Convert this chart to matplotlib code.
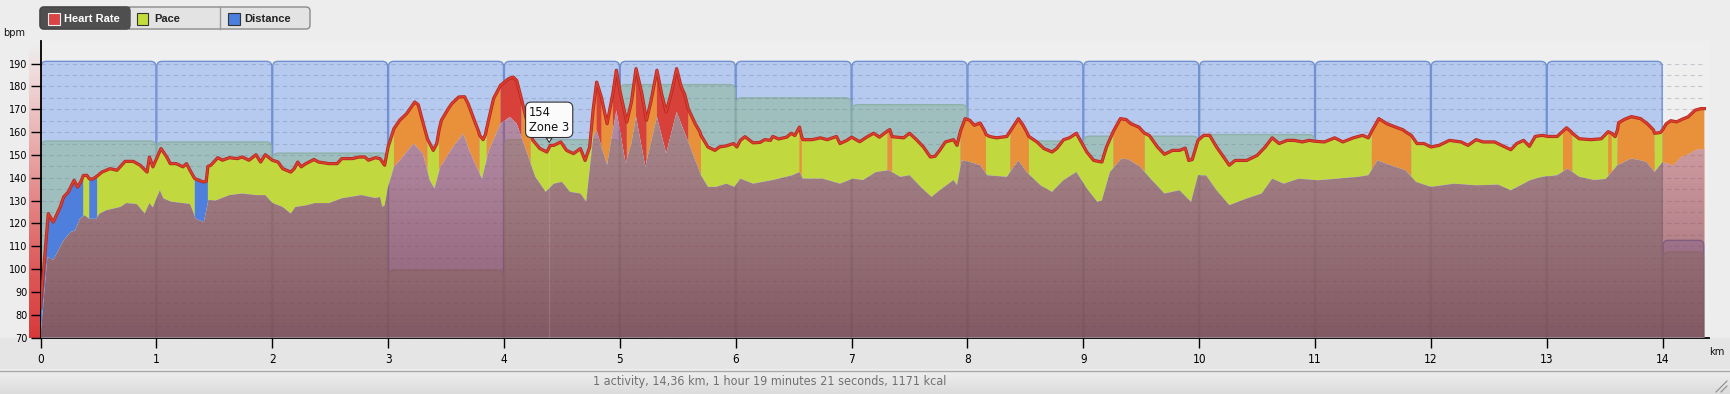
import numpy as np
import matplotlib
matplotlib.use("Agg")
import matplotlib.pyplot as plt
from matplotlib.patches import FancyBboxPatch, Rectangle
from matplotlib.lines import Line2D
from matplotlib.transforms import IdentityTransform
from matplotlib import font_manager as fm

# ---------------- data ----------------
hr_km = [0.00, 0.067, 0.11, 0.17, 0.20, 0.24, 0.29, 0.32, 0.35, 0.37,
         0.40, 0.42, 0.45, 0.49, 0.53, 0.60, 0.66, 0.73, 0.80, 0.86,
         0.92, 0.94, 0.97, 1.04, 1.09, 1.12, 1.17, 1.23, 1.26, 1.29,
         1.33, 1.40, 1.43, 1.445, 1.47, 1.53, 1.57, 1.63, 1.70, 1.74,
         1.80, 1.86, 1.90, 1.94, 2.00, 2.05, 2.09, 2.16, 2.19, 2.22,
         2.25, 2.29, 2.36, 2.40, 2.49, 2.56, 2.60, 2.69, 2.75, 2.80,
         2.83, 2.89, 2.93, 2.97, 3.00, 3.05, 3.10, 3.16, 3.23, 3.26,
         3.30, 3.34, 3.36, 3.39, 3.42, 3.44, 3.46, 3.52, 3.55, 3.61,
         3.66, 3.69, 3.75, 3.78, 3.79, 3.82, 3.84, 3.85, 3.91, 3.97,
         4.04, 4.08, 4.11, 4.15, 4.20, 4.23, 4.25, 4.31, 4.37, 4.40,
         4.43, 4.49, 4.54, 4.60, 4.66, 4.70, 4.74, 4.77, 4.80, 4.84,
         4.89, 4.94, 4.97, 5.00, 5.06, 5.10, 5.14, 5.19, 5.23, 5.27,
         5.32, 5.36, 5.40, 5.45, 5.49, 5.53, 5.56, 5.59, 5.65, 5.69,
         5.70, 5.76, 5.82, 5.86, 5.92, 5.98, 6.01, 6.04, 6.08, 6.15,
         6.21, 6.25, 6.30, 6.32, 6.37, 6.44, 6.48, 6.51, 6.55, 6.57,
         6.58, 6.66, 6.73, 6.79, 6.87, 6.90, 6.96, 7.00, 7.07, 7.13,
         7.19, 7.24, 7.31, 7.33, 7.35, 7.45, 7.50, 7.56, 7.62, 7.68,
         7.72, 7.76, 7.81, 7.88, 7.91, 7.94, 7.98, 8.02, 8.06, 8.11,
         8.15, 8.16, 8.19, 8.25, 8.34, 8.37, 8.44, 8.48, 8.51, 8.53,
         8.60, 8.66, 8.73, 8.77, 8.83, 8.88, 8.94, 8.97, 9.03, 9.09,
         9.16, 9.20, 9.26, 9.32, 9.37, 9.41, 9.48, 9.51, 9.53, 9.57,
         9.64, 9.70, 9.77, 9.83, 9.88, 9.91, 9.94, 9.99, 10.04, 10.09,
         10.15, 10.21, 10.26, 10.31, 10.41, 10.50, 10.57, 10.63, 10.69, 10.76,
         10.82, 10.89, 10.95, 11.00, 11.08, 11.17, 11.24, 11.33, 11.41, 11.46,
         11.49, 11.55, 11.62, 11.68, 11.76, 11.78, 11.83, 11.88, 11.94, 12.00,
         12.07, 12.16, 12.26, 12.32, 12.39, 12.45, 12.55, 12.61, 12.69, 12.74,
         12.80, 12.85, 12.90, 12.96, 13.01, 13.09, 13.14, 13.17, 13.21, 13.22,
         13.28, 13.38, 13.47, 13.53, 13.56, 13.59, 13.61, 13.62, 13.67, 13.73,
         13.81, 13.87, 13.92, 13.93, 13.98, 14.00, 14.03, 14.07, 14.12, 14.18,
         14.22, 14.28, 14.33, 14.36]
hr_bpm = [83.0, 124.3, 120.6, 127.2, 131.6, 133.8, 138.9, 135.9, 138.5, 141.0,
          141.1, 139.6, 139.4, 140.8, 142.5, 144.0, 143.3, 147.2, 147.2, 145.5,
          142.5, 149.1, 144.8, 152.8, 149.1, 146.2, 146.2, 144.8, 146.2, 143.3,
          139.7, 138.2, 138.4, 145.0, 145.5, 148.8, 147.7, 148.8, 148.4, 149.1,
          147.7, 150.1, 146.9, 150.1, 147.7, 146.9, 144.0, 142.5, 144.0, 146.9,
          144.8, 146.2, 148.0, 146.9, 146.2, 146.2, 148.4, 148.4, 149.1, 149.1,
          147.7, 148.8, 148.4, 145.5, 153.5, 161.5, 165.2, 168.1, 173.2, 172.0,
          164.4, 157.0, 155.0, 152.0, 155.0, 161.0, 165.2, 170.3, 172.5, 175.4,
          175.5, 172.5, 164.4, 160.5, 158.6, 156.7, 159.0, 161.5, 174.7, 180.5,
          183.4, 184.1, 182.6, 174.7, 164.4, 159.0, 156.4, 152.8, 151.3, 154.2,
          154.2, 155.7, 152.0, 150.6, 152.8, 147.6, 153.5, 170.0, 181.9, 175.4,
          163.7, 177.0, 187.1, 178.3, 164.4, 173.2, 187.8, 176.9, 165.2, 173.9,
          187.1, 176.9, 168.8, 178.3, 187.8, 179.8, 176.5, 170.3, 163.7, 160.2,
          158.6, 153.5, 152.0, 153.5, 154.0, 155.0, 153.5, 156.4, 158.0, 155.3,
          155.5, 156.7, 156.4, 158.1, 157.0, 157.8, 159.5, 158.5, 162.2, 158.0,
          156.7, 156.7, 157.5, 156.7, 158.1, 155.0, 156.4, 157.8, 155.8, 157.8,
          159.5, 157.8, 160.5, 161.1, 158.0, 157.5, 159.5, 156.7, 153.5, 149.1,
          149.4, 152.0, 155.7, 156.7, 154.2, 160.5, 165.9, 165.2, 163.0, 164.0,
          160.4, 159.0, 158.1, 157.5, 158.1, 160.5, 165.9, 163.0, 160.2, 158.1,
          155.7, 152.8, 151.3, 152.8, 156.7, 157.5, 159.5, 156.8, 151.3, 147.6,
          146.9, 153.5, 160.4, 165.9, 165.5, 163.7, 162.2, 160.5, 159.5, 158.5,
          153.5, 150.3, 152.0, 152.0, 153.0, 147.6, 148.0, 156.4, 158.6, 158.6,
          153.5, 149.1, 145.5, 147.6, 147.6, 149.8, 153.5, 157.5, 155.0, 156.4,
          156.4, 155.7, 156.4, 156.0, 155.7, 157.5, 155.7, 157.5, 158.6, 157.5,
          160.5, 165.9, 163.7, 162.5, 161.0, 160.2, 158.6, 155.0, 155.0, 153.5,
          154.2, 156.4, 155.7, 154.2, 156.7, 155.7, 155.7, 154.2, 152.3, 155.0,
          156.4, 153.8, 158.1, 158.6, 158.1, 158.1, 160.5, 161.9, 160.2, 159.5,
          157.1, 156.7, 157.1, 160.2, 159.5, 158.0, 161.0, 164.1, 165.6, 166.8,
          165.9, 163.6, 161.0, 159.5, 159.8, 161.0, 163.6, 165.0, 164.5, 165.9,
          166.7, 169.6, 170.3, 170.3]

pace_km = [0.00, 0.06, 0.11, 0.20, 0.26, 0.30, 0.34, 0.38, 0.42, 0.48,
           0.51, 0.57, 0.69, 0.74, 0.83, 0.90, 0.94, 0.97, 1.03, 1.06,
           1.12, 1.29, 1.34, 1.41, 1.45, 1.51, 1.63, 1.74, 1.86, 1.94,
           2.00, 2.09, 2.16, 2.20, 2.29, 2.37, 2.49, 2.60, 2.77, 2.89,
           2.93, 2.95, 2.97, 3.00, 3.05, 3.10, 3.22, 3.30, 3.36, 3.40,
           3.45, 3.56, 3.65, 3.70, 3.79, 3.81, 3.87, 3.97, 4.05, 4.11,
           4.20, 4.27, 4.36, 4.43, 4.50, 4.57, 4.66, 4.71, 4.77, 4.80,
           4.85, 4.89, 4.94, 4.97, 5.05, 5.10, 5.14, 5.22, 5.32, 5.40,
           5.49, 5.59, 5.70, 5.76, 5.83, 5.92, 5.99, 6.04, 6.15, 6.32,
           6.49, 6.55, 6.58, 6.75, 6.90, 7.01, 7.10, 7.21, 7.32, 7.42,
           7.50, 7.61, 7.69, 7.76, 7.88, 7.91, 7.95, 8.02, 8.11, 8.17,
           8.34, 8.44, 8.51, 8.63, 8.73, 8.83, 8.94, 9.03, 9.12, 9.16,
           9.23, 9.33, 9.39, 9.49, 9.58, 9.70, 9.83, 9.93, 9.99, 10.06,
           10.15, 10.26, 10.41, 10.54, 10.63, 10.73, 10.86, 11.02, 11.17, 11.37,
           11.46, 11.54, 11.65, 11.78, 11.87, 12.00, 12.20, 12.39, 12.58, 12.69,
           12.86, 12.96, 13.09, 13.18, 13.28, 13.41, 13.51, 13.61, 13.73, 13.81,
           13.86, 13.93, 14.00, 14.09, 14.16, 14.23, 14.29, 14.36]
pace_val = [70.0, 105.3, 104.0, 112.6, 116.2, 117.0, 122.0, 123.6, 122.0, 122.0,
            124.3, 125.8, 127.2, 128.9, 128.5, 124.3, 128.9, 127.0, 134.5, 131.0,
            129.6, 128.5, 122.0, 120.6, 130.3, 130.0, 132.4, 133.1, 132.4, 132.4,
            129.0, 127.2, 124.3, 127.2, 127.9, 128.9, 128.9, 131.0, 132.4, 131.1,
            131.6, 127.2, 127.9, 136.0, 144.7, 147.6, 155.0, 150.6, 138.9, 135.3,
            144.7, 153.5, 159.3, 152.0, 141.8, 139.6, 152.0, 163.7, 166.6, 163.7,
            150.6, 140.4, 133.8, 137.4, 138.2, 133.8, 133.1, 129.5, 157.8, 160.8,
            152.0, 145.5, 160.8, 169.5, 146.2, 155.0, 166.6, 144.7, 166.6, 150.6,
            168.8, 155.7, 141.1, 136.0, 136.0, 137.4, 136.0, 139.6, 137.4, 139.0,
            141.1, 142.5, 139.6, 139.6, 137.4, 139.6, 139.0, 142.5, 143.3, 140.4,
            141.1, 135.3, 131.6, 134.5, 139.0, 136.7, 147.6, 146.9, 145.5, 141.1,
            140.4, 147.6, 142.5, 136.7, 133.8, 139.0, 142.5, 135.3, 129.5, 130.0,
            142.5, 148.4, 148.0, 144.8, 139.6, 133.1, 134.5, 129.4, 141.1, 141.0,
            134.5, 128.0, 130.9, 133.1, 139.6, 137.4, 139.6, 138.9, 139.5, 140.4,
            141.1, 147.6, 145.5, 143.3, 138.2, 136.0, 137.4, 136.7, 137.0, 134.5,
            139.0, 140.4, 141.1, 144.0, 140.4, 139.0, 139.5, 145.5, 148.4, 147.6,
            146.9, 142.5, 146.9, 145.5, 149.1, 150.6, 152.3, 152.7]

lap_start = [0, 1, 2, 3, 4, 5, 6, 7, 8, 9, 10, 11, 12, 13, 14]
lap_end = [1, 2, 3, 4, 5, 6, 7, 8, 9, 10, 11, 12, 13, 14, 14.36]
lap_distance_top = [191, 191, 191, 191, 191, 191, 191, 191, 191, 191, 191, 191, 191, 191, 112.6]
lap_pace_top = [156.1, 155.7, 150.8, 99.5, 156.7, 180.8, 175.0, 172.0, 156.1, 158.2,
                158.9, 150.0, 149.0, 151.0, 107.5]

zone_limits = [140, 160, 176]
zone_colors = ['#4f7fdc', '#c1d83f', '#e8903a', '#d8403a']
x_ticks = list(range(0, 15))
y_ticks = list(range(70, 191, 10))
tooltip_km, tooltip_bpm, tooltip_text = 4.39, 154, "154\nZone 3"
legend_labels = ["Heart Rate", "Pace", "Distance"]
summary = "1 activity, 14,36 km, 1 hour 19 minutes 21 seconds, 1171 kcal"

# ---------------- fonts ----------------
def find_condensed():
    cands = []
    for f in fm.fontManager.ttflist:
        nm = (f.fname or '').lower()
        if ('narrow' in nm or 'condensed' in nm) and 'bold' not in nm and 'oblique' not in nm \
                and 'italic' not in nm:
            pri = 0 if 'liberationsansnarrow' in nm.replace('-', '') else (
                1 if 'dejavusanscondensed' in nm else 2)
            cands.append((pri, f.fname))
    cands.sort()
    return cands[0][1] if cands else None

COND = find_condensed()
def cond_fp(size):
    if COND:
        return fm.FontProperties(fname=COND, size=size)
    return fm.FontProperties(family='DejaVu Sans', size=size)

def has_font(name):
    try:
        fm.findfont(fm.FontProperties(family=name), fallback_to_default=False)
        return True
    except Exception:
        return False
SANS = 'Liberation Sans' if has_font('Liberation Sans') else 'DejaVu Sans'

# ---------------- figure ----------------
W, H = 1730, 394
BG = '#ededed'
fig = plt.figure(figsize=(W / 100, H / 100), dpi=100, facecolor=BG)

def px_rect(x0, y0, x1, y1):
    return [x0 / W, 1 - y1 / H, (x1 - x0) / W, (y1 - y0) / H]

# footer
axf = fig.add_axes(px_rect(0, 370, W, H))
g = np.linspace(0, 1, 50)
foot = np.zeros((50, 2, 3))
c0 = np.array([0.94, 0.94, 0.94]); c1 = np.array([0.86, 0.86, 0.86])
for i, gi in enumerate(g):
    foot[i, :, :] = c0 * (1 - gi) + c1 * gi
axf.imshow(foot, aspect='auto', extent=(0, 1, 1, 0))
axf.set_axis_off()
fig.add_artist(Line2D([0, 1], [1 - 370.5 / H] * 2, color='#a8a8a8', lw=1.0))
fig.text(770 / W, 1 - 382 / H, summary, ha='center', va='center',
         fontproperties=cond_fp(9), color='#707070')
for d in (0, 5):
    fig.add_artist(Line2D([(1716 + d) / W, 1727 / W], [1 - 392 / H, 1 - (381 + d) / H],
                          color='#8c8c8c', lw=0.8))

# band under x axis
fig.add_artist(Rectangle((0, 1 - 369 / H), 1, (369 - 338) / H, transform=fig.transFigure,
                         facecolor='#e5e5e5', edgecolor='none', zorder=-5))

# left gradient strip
axs = fig.add_axes(px_rect(29, 45, 40, 337.6))
stops = [(0.0, (216, 58, 58)), (0.25, (222, 92, 92)), (0.5, (228, 140, 140)),
         (0.75, (236, 190, 190)), (0.9, (240, 218, 218)), (1.0, (237, 237, 237))]
n = 200
strip = np.zeros((n, 1, 3))
pos = np.array([s[0] for s in stops]); cols = np.array([s[1] for s in stops]) / 255
for k in range(3):
    strip[:, 0, k] = np.interp(np.linspace(0, 1, n), pos, cols[:, k])
axs.imshow(strip, aspect='auto', origin='lower', extent=(0, 1, 0, 1))
axs.set_axis_off()
axs.set_zorder(0)

# ---------------- main axes ----------------
X_END = 14.36
ax = fig.add_axes([40.5 / W, (H - 337.6) / H, (1709 - 40.5) / W, (337.6 - 40.8) / H])
ax.set_zorder(1)
ax.set_xlim(0, 14.40)
ax.set_ylim(70, 200)
ax.set_facecolor('#efefef')
for s in ('top', 'right'):
    ax.spines[s].set_visible(False)
for s in ('left', 'bottom'):
    ax.spines[s].set_color('black')
    ax.spines[s].set_linewidth(1.3)

bbox = ax.get_position()
ax_w_px = bbox.width * W
ax_h_px = bbox.height * H
ASP = (130 / ax_h_px) / (14.40 / ax_w_px)

def draw_bars(z, clip=None):
    arts = []
    for s, e, top in zip(lap_start, lap_end, lap_distance_top):
        p = FancyBboxPatch((s + 0.004, 60), (e - s) - 0.008, top - 60,
                           boxstyle='round,pad=0,rounding_size=0.045', mutation_aspect=ASP,
                           fc='#b6c9ee', ec='#7191d3', lw=1.0, zorder=z)
        ax.add_patch(p); arts.append(p)
    for s, e, top in zip(lap_start, lap_end, lap_pace_top):
        p = FancyBboxPatch((s + 0.006, 60), (e - s) - 0.012, top - 60,
                           boxstyle='round,pad=0,rounding_size=0.045', mutation_aspect=ASP,
                           fc='#9fbfbe', ec='#8db1a9', lw=1.0, zorder=z + 0.01)
        ax.add_patch(p); arts.append(p)
    if clip is not None:
        for a in arts:
            a.set_clip_path(clip[0], clip[1])
    return arts

draw_bars(1)

grid_y = list(range(75, 191, 5))
GRID_C = (0.45, 0.48, 0.58, 0.33)
ax.hlines(grid_y, 0, X_END, colors=GRID_C, linestyles=(0, (4, 3)), lw=0.8, zorder=2)

# heart-rate zone band
hr_k = np.array(hr_km); hr_v = np.array(hr_bpm)
zones = np.digitize(hr_v, zone_limits)
for z, col in enumerate(zone_colors):
    m = zones == z
    m_ext = m.copy()
    m_ext[1:] |= m[:-1]
    ax.fill_between(hr_k, 70, hr_v, where=m_ext, facecolor=col, edgecolor='none',
                    lw=0, zorder=3)

# pace area (translucent mauve over the bars)
low = ax.fill_between(pace_km, 70, pace_val, facecolor='#efefef', edgecolor='none', lw=0, zorder=4)
clip_path = low.get_paths()[0]
clip = (clip_path, ax.transData)
draw_bars(4.1, clip=clip)
hl = ax.hlines(grid_y, 0, X_END, colors=GRID_C, linestyles=(0, (4, 3)), lw=0.8, zorder=4.2)
hl.set_clip_path(*clip)

ny = 260
yy = np.linspace(0, 1, ny)  # 0 at 70 bpm, 1 at 200 bpm
rgba = np.zeros((ny, 1, 4))
cb = np.array([118, 50, 66]) / 255; ct = np.array([195, 75, 82]) / 255
for k in range(3):
    rgba[:, 0, k] = cb[k] * (1 - yy) + ct[k] * yy
rgba[:, 0, 3] = 0.72 * (1 - yy) + 0.36 * yy
im = ax.imshow(rgba, extent=(0, X_END, 70, 200), origin='lower', aspect='auto',
               interpolation='bilinear', zorder=4.3)
im.set_clip_path(*clip)

# tooltip crosshair
ax.vlines([tooltip_km], 70, tooltip_bpm - 1, colors=[(1, 1, 1, 0.12)], lw=1.0, zorder=4.4)

# heart-rate line
ax.plot(hr_k, hr_v, color='#b3281f', lw=2.3, zorder=6, solid_joinstyle='round')
ax.plot(hr_k, hr_v, color='#dd3d2f', lw=1.2, zorder=6.1, solid_joinstyle='round')

ax.set_xlim(0, 14.40)
ax.set_ylim(70, 200)

# ticks
ax.set_xticks(x_ticks)
ax.set_yticks(y_ticks)
ax.tick_params(axis='x', direction='out', length=7.5, width=1.0, pad=3.5, colors='black')
ax.tick_params(axis='y', direction='out', length=7.5, width=1.0, pad=2.0, labelsize=7,
               colors='black')
for lbl in ax.get_xticklabels():
    lbl.set_fontproperties(cond_fp(8.5))

fig.text(14 / W, 1 - 33 / H, 'bpm', ha='center', va='center', fontsize=7, color='#111')
fig.text(1717 / W, 1 - 352 / H, 'km', ha='center', va='center',
         fontproperties=cond_fp(8), color='#111')

# tooltip
ax.annotate(tooltip_text, xy=(tooltip_km, tooltip_bpm + 1.5), xytext=(0, 6),
            textcoords='offset points', ha='center', va='bottom', fontsize=8.3,
            multialignment='left', color='#111', zorder=8, linespacing=1.25,
            bbox=dict(boxstyle='round,pad=0.3,rounding_size=0.5', fc='#fbfbfb', ec='#333333', lw=0.8),
            arrowprops=dict(arrowstyle='wedge,tail_width=0.5,shrink_factor=0.5', fc='#fbfbfb',
                            ec='#333333', lw=0.8, shrinkA=0, shrinkB=0))

# ---------------- legend (segmented control) ----------------
T = IdentityTransform()
def pr(x0, y0, x1, y1, **kw):
    return Rectangle((x0, H - y1), x1 - x0, y1 - y0, transform=T, **kw)

outer = FancyBboxPatch((40, H - 29), 270, 22, boxstyle='round,pad=0,rounding_size=4',
                       transform=T, fc='#e3e3e3', ec='#8a8a8a', lw=1.0)
fig.add_artist(outer)
dark = FancyBboxPatch((40, H - 29), 90, 22, boxstyle='round,pad=0,rounding_size=4',
                      transform=T, fc='#4f4f4f', ec='#444444', lw=1.0)
fig.add_artist(dark)
fig.add_artist(pr(120, 7, 130, 29, fc='#4f4f4f', ec='none'))
fig.add_artist(Line2D([220, 220], [H - 29, H - 7], transform=T, color='#9a9a9a', lw=1))
fig.add_artist(pr(48, 12.5, 59.5, 25, fc='#d94545', ec='#f0f0f0', lw=0.8))
fig.add_artist(pr(136.5, 12.5, 148, 24.5, fc='#c4dd3a', ec='#333333', lw=0.8))
fig.add_artist(pr(228, 12.5, 239.5, 24.5, fc='#4b7fe0', ec='#333333', lw=0.8))
fig.text(64 / W, 1 - 18.5 / H, legend_labels[0], ha='left', va='center', fontsize=8,
         fontweight='bold', color='white', family=SANS)
fig.text(154 / W, 1 - 18.5 / H, legend_labels[1], ha='left', va='center', fontsize=8,
         fontweight='bold', color='#222222', family=SANS)
fig.text(244 / W, 1 - 18.5 / H, legend_labels[2], ha='left', va='center', fontsize=8,
         fontweight='bold', color='#222222', family=SANS)

fig.savefig('out.png', dpi=100, facecolor=BG)
